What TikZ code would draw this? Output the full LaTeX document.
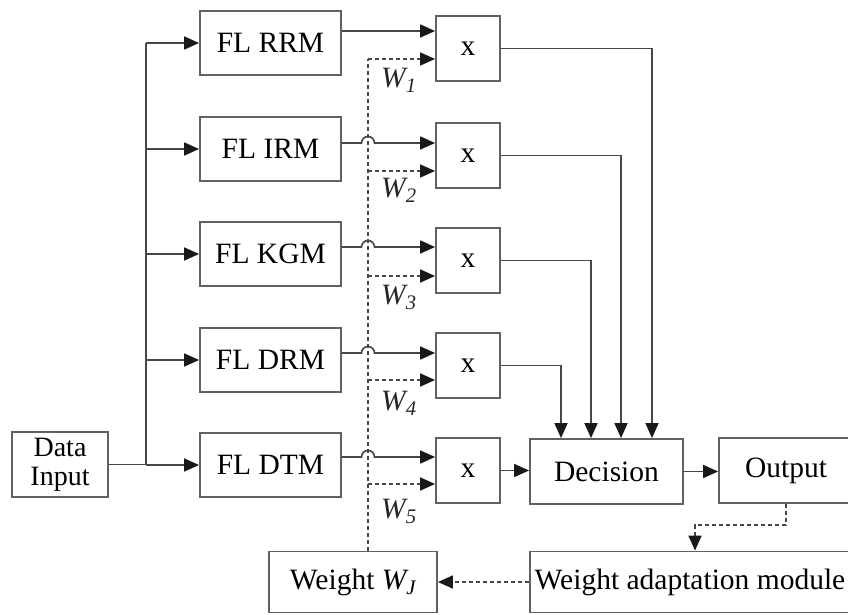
\documentclass[tikz,border=0pt]{standalone}
\usepackage{fontspec}
\setmainfont{Liberation Serif}
\usetikzlibrary{arrows.meta}
\definecolor{boxgray}{gray}{0.38}
\definecolor{linegray}{gray}{0.28}
\begin{document}
\begin{tikzpicture}[x=1pt,y=-1pt,
  box/.style={draw=boxgray, fill=white, line width=1.8pt, inner sep=0pt,
    font=\fontsize{29.5}{29}\selectfont, text=black},
  flbox/.style={box, minimum width=141pt, minimum height=64pt},
  mbox/.style={box, minimum width=64pt, minimum height=65pt},
  wire/.style={draw=linegray, line width=1.6pt},
  tip/.style={-{Triangle[length=15pt,width=13pt,color=black!90]}},
  arr/.style={wire, tip},
  dline/.style={wire, dash pattern=on 4pt off 3pt},
  darr/.style={dline, tip},
  wlab/.style={anchor=west, inner sep=0pt, text=black!85,
    font=\fontsize{29.5}{30}\selectfont\itshape}
]
\useasboundingbox (0,0) rectangle (848,615);
\clip (0,0) rectangle (848,615);

% input and fuzzy-logic modules
\node[box, minimum width=96pt, minimum height=65pt, align=center,
  font=\fontsize{28}{29}\selectfont] (din) at (60,464.5) {Data\\Input};
\node[flbox] (fl1) at (270.5,43)  {FL RRM};
\node[flbox] (fl2) at (270.5,149) {FL IRM};
\node[flbox] (fl3) at (270.5,254) {FL KGM};
\node[flbox] (fl4) at (270.5,360) {FL DRM};
\node[flbox] (fl5) at (270.5,465) {FL DTM};

% multipliers
\foreach \i/\y in {1/48.5,2/155.5,3/260.5,4/365.5,5/470.5}
  \node[mbox] (m\i) at (468,\y) {x};

% decision chain and feedback
\node[box, minimum width=153pt, minimum height=65pt] (dec) at (606.5,471.5) {Decision};
\node[box, minimum width=134pt, minimum height=65pt] (out) at (786,470.5) {Output};
\node[box, minimum width=168pt, minimum height=61pt] (wj) at (353,582) {Weight \textit{W\textsubscript{J}}};
\node[box, minimum width=320pt, minimum height=61pt] (wam) at (690,582) {Weight adaptation module};

% helper coordinates
\coordinate (bus) at (146,0);
\coordinate (wbus) at (368,0);
\coordinate (hump) at (361.5,0);
\foreach \i/\s/\d in {1/31/59,2/143/171,3/247/276,4/353/380,5/457/484} {
  \coordinate (s\i) at (0,\s);
  \coordinate (d\i) at (0,\d);
}
\coordinate (c1) at (652,0);
\coordinate (c2) at (621,0);
\coordinate (c3) at (591,0);
\coordinate (c4) at (561,0);
\coordinate (fb) at (695,525);

% data distribution bus
\draw[wire] (din.east) -- (din.east -| bus);
\draw[wire] (bus |- fl1.west) -- (bus |- fl5.west);
\foreach \i in {1,...,5}
  \draw[arr] (bus |- fl\i.west) -- (fl\i.west);

% module outputs into multipliers (hop over the weight line)
\draw[arr] (fl1.east |- s1) -- (m1.west |- s1);
\foreach \i in {2,...,5}
  \draw[arr] (fl\i.east |- s\i) -- (hump |- s\i)
    arc[start angle=180, end angle=0, radius=6.5pt] -- (m\i.west |- s\i);

% weight line
\draw[dline] (wbus |- wj.north) -- (wbus |- d1);
\foreach \i in {1,...,5}
  \draw[darr] (wbus |- d\i) -- (m\i.west |- d\i);
\foreach \i/\y in {1/80,2/190,3/297,4/403,5/511}
  \node[wlab] (w\i) at (381,\y) {W\textsubscript{\i}};

% multipliers into decision
\foreach \i in {1,...,4}
  \draw[arr] (m\i.east) -| (c\i |- dec.north);
\draw[arr] (m5.east) -- (dec.west |- m5.east);
\draw[arr] (dec.east) -- (out.west |- dec.east);

% feedback loop
\draw[darr] (out.south) |- (fb) -- (fb |- wam.north);
\draw[darr] (wam.west) -- (wj.east);
\end{tikzpicture}
\end{document}
